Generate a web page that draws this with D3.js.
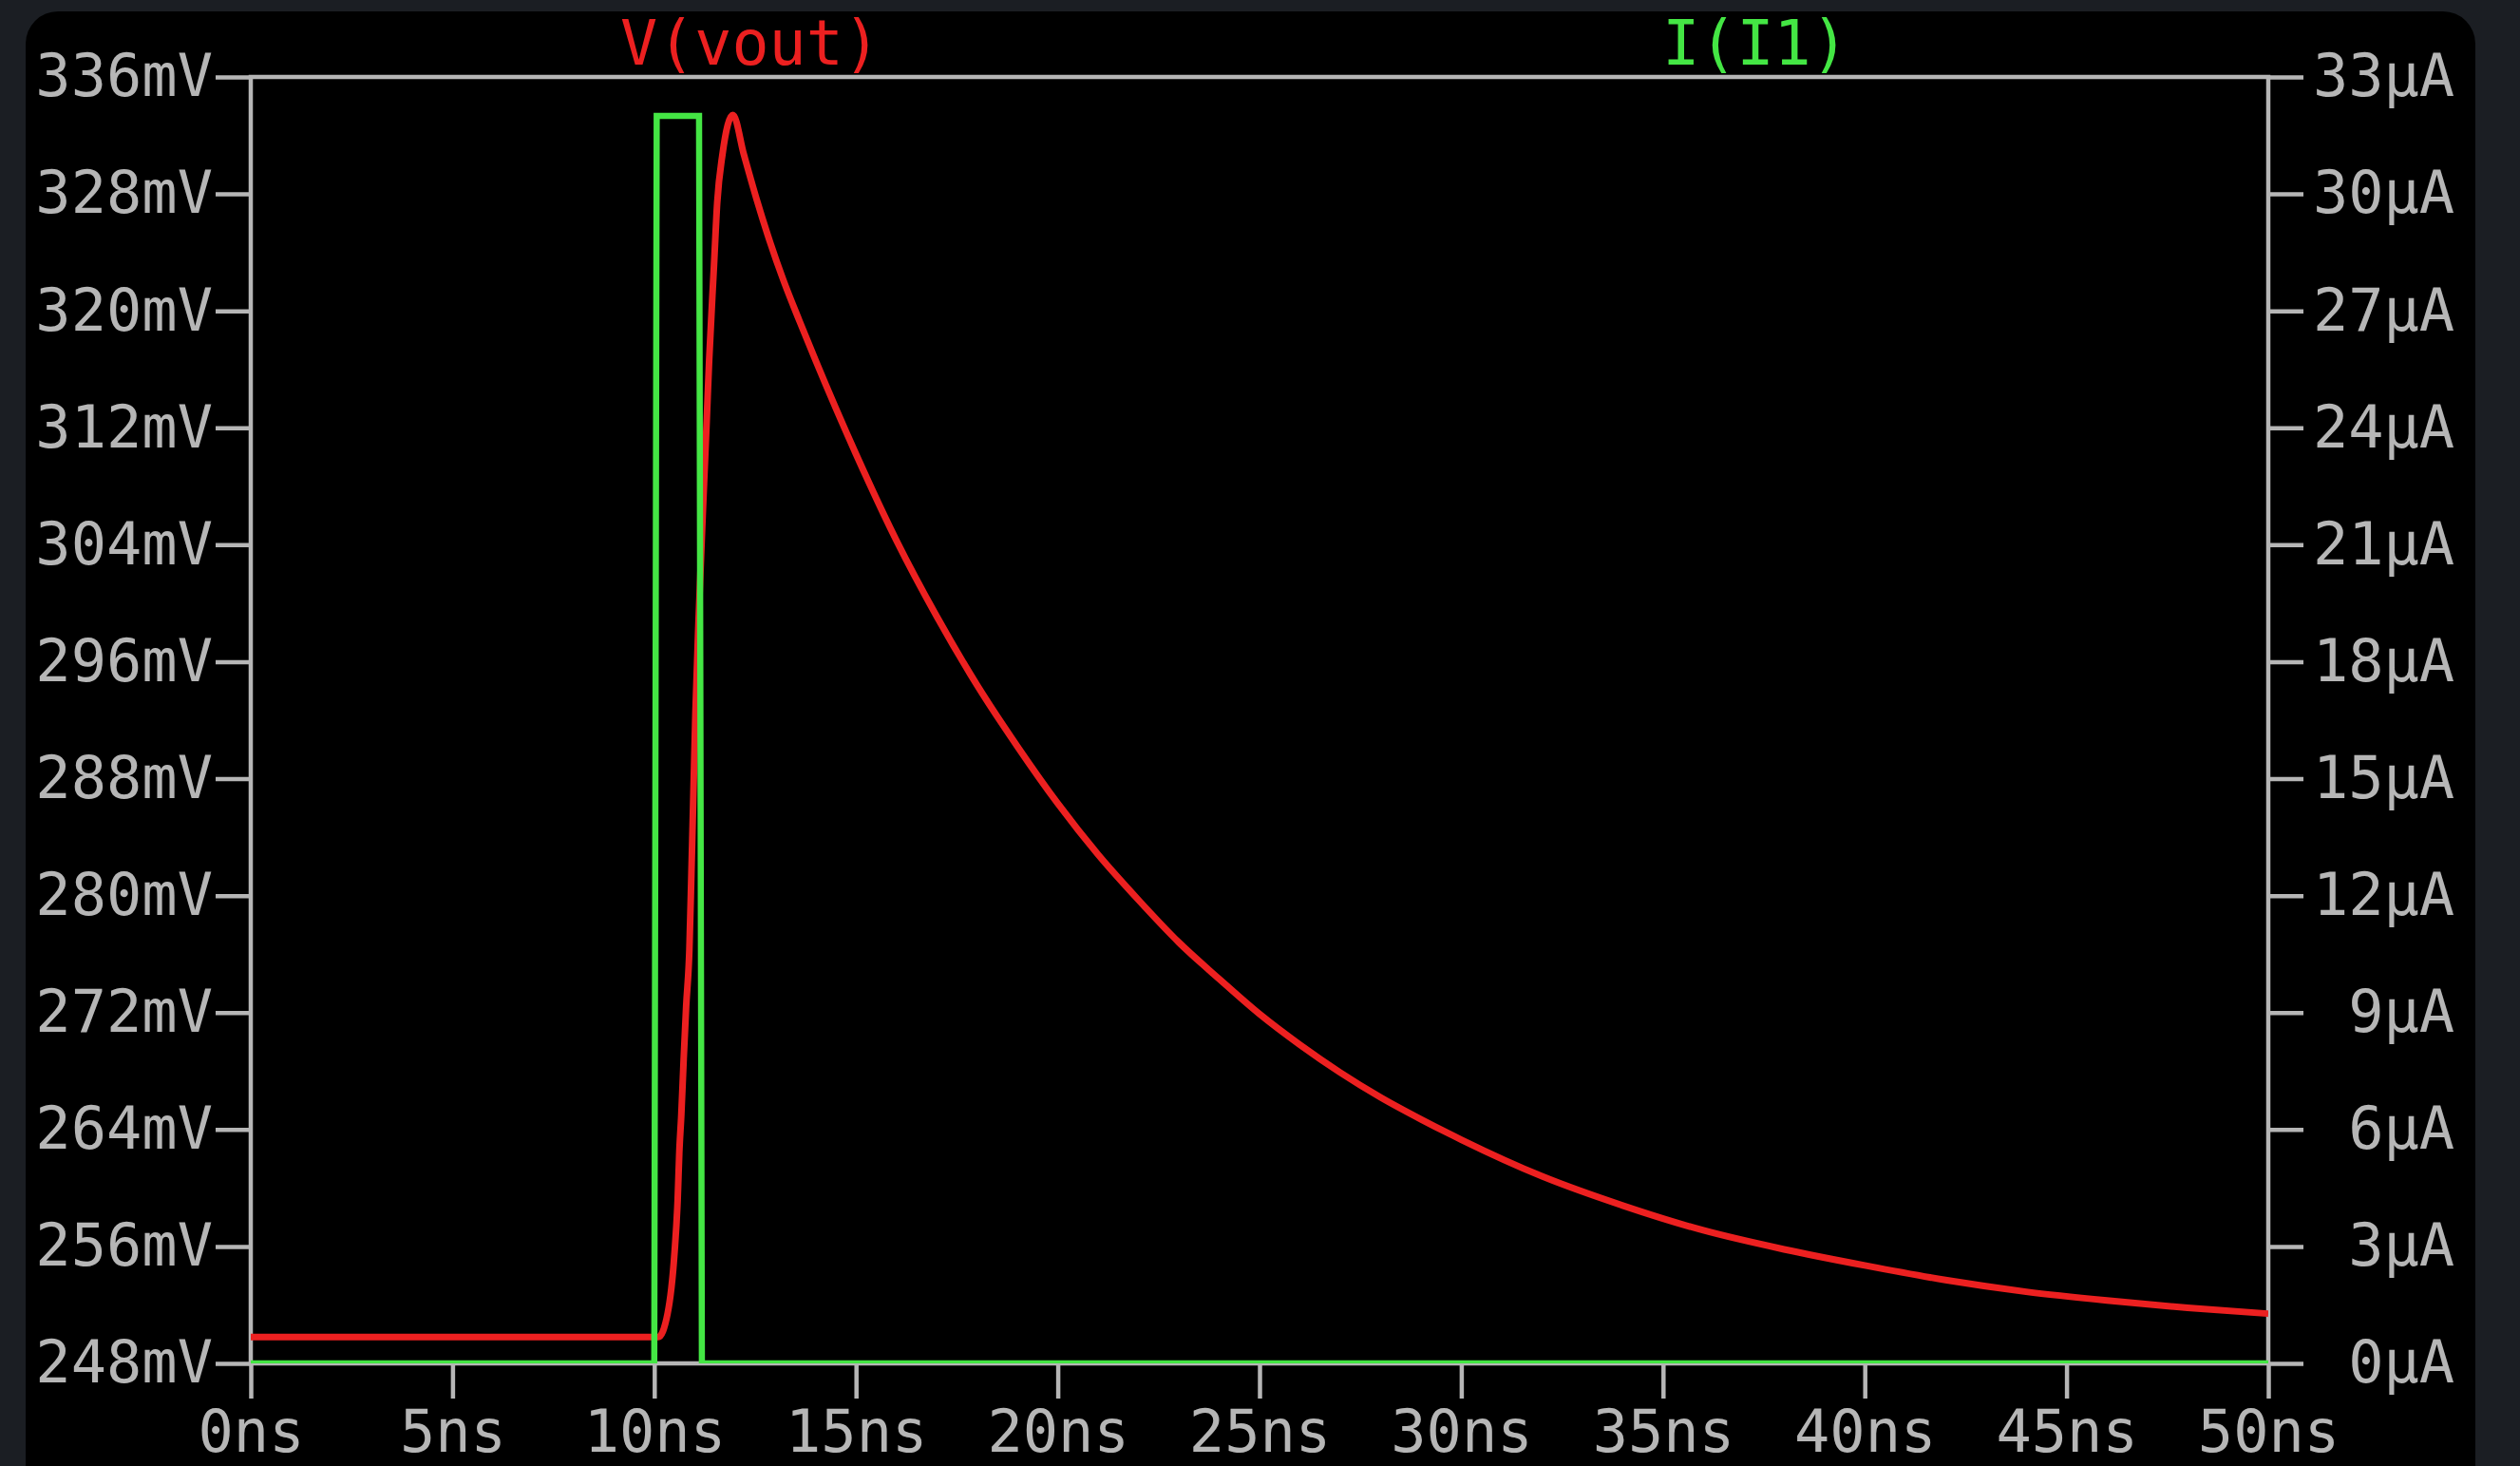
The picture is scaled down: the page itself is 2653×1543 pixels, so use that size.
<!DOCTYPE html>
<html>
<head>
<meta charset="utf-8">
<script src="https://cdn.jsdelivr.net/npm/d3@7"></script>
<style>
  html, body { margin: 0; padding: 0; background: #1b1e23; }
  svg { display: block; }
  .tick text { font-family: "DejaVu Sans Mono", monospace; font-size: 62px; fill: #b6b6b6; }
</style>
</head>
<body>
<div id="container"></div>
<script>
/**
 * DATA
 * */
// V(vout): time in ns, value in mV
const voutTime = [0, 10, 10.1, 10.33, 10.5, 10.58, 10.62, 10.67, 10.73, 10.79, 10.87, 10.92, 10.97, 11.02,
                  11.1, 11.2, 11.3, 11.36, 11.48, 11.56, 11.69, 11.95, 12.22, 12.54, 12.81, 13.2, 13.6, 14,
                  15, 16, 17, 18, 19, 20, 21, 22, 23, 24, 25, 26, 27, 28, 29, 30,
                  32, 34, 36, 38, 40, 42, 44, 46, 48, 50];
const voutValue = [249.8, 249.8, 249.8, 251.4, 255.5, 259.2, 262.4, 265.0, 268.9, 272.4, 276.3, 281.5, 287.0, 292.5,
                   299.0, 306.0, 312.5, 316.6, 323.1, 327.4, 330.7, 333.4, 330.7, 327.6, 325.2, 322.1, 319.3, 316.6,
                   310.2, 304.3, 299.1, 294.4, 290.2, 286.3, 282.8, 279.7, 276.8, 274.3, 271.9, 269.8, 267.9, 266.2, 264.7, 263.3,
                   260.8, 258.8, 257.1, 255.8, 254.7, 253.7, 252.9, 252.3, 251.8, 251.4];

// I(I1): time in ns, value in µA
const iTime = [0, 10, 10.06, 11.11, 11.18, 50];
const iValue = [0, 0, 32, 32, 0, 0];

// axis ticks
const timeTicks = [0, 5, 10, 15, 20, 25, 30, 35, 40, 45, 50];
const voltTicks = [248, 256, 264, 272, 280, 288, 296, 304, 312, 320, 328, 336];
const currTicks = [0, 3, 6, 9, 12, 15, 18, 21, 24, 27, 30, 33];

const seriesNames = ["V(vout)", "I(I1)"];

/**
 * LAYOUT
 * */
const width = 2653, height = 1543;
const plot = { left: 264, right: 2388, top: 81, bottom: 1435 };
const axisColor = "#b6b6b6";
const redColor = "#ec2020";
const greenColor = "#44e644";

const svg = d3.select("#container")
  .append("svg")
  .attr("width", width)
  .attr("height", height);

// window background + black panel
svg.append("rect")
  .attr("width", width).attr("height", height)
  .attr("fill", "#1b1e23");
svg.append("rect")
  .attr("x", 27).attr("y", 12)
  .attr("width", 2579).attr("height", 1580)
  .attr("rx", 34)
  .attr("fill", "#000");

const xScale = d3.scaleLinear().domain([0, 50]).range([plot.left, plot.right]);
const yV = d3.scaleLinear().domain([248, 336]).range([plot.bottom, plot.top]);
const yI = d3.scaleLinear().domain([0, 33]).range([plot.bottom, plot.top]);

// axes
const tickLen = 37;
const leftAxis = svg.append("g")
  .attr("transform", `translate(${plot.left},0)`)
  .call(d3.axisLeft(yV).tickValues(voltTicks).tickSize(tickLen).tickSizeOuter(0).tickPadding(3)
    .tickFormat(d => d + "mV"));

const rightAxis = svg.append("g")
  .attr("transform", `translate(${plot.right},0)`)
  .call(d3.axisRight(yI).tickValues(currTicks).tickSize(tickLen).tickSizeOuter(0).tickPadding(10)
    .tickFormat(d => d + "µA"));

const bottomAxis = svg.append("g")
  .attr("transform", `translate(0,${plot.bottom})`)
  .call(d3.axisBottom(xScale).tickValues(timeTicks).tickSize(tickLen).tickSizeOuter(0).tickPadding(12)
    .tickFormat(d => d + "ns"));

svg.selectAll(".domain").remove();
svg.selectAll(".tick line").attr("stroke", axisColor).attr("stroke-width", 4.5);

// right labels are padded to the widest label, like LTspice does
rightAxis.selectAll(".tick text")
  .attr("text-anchor", "end")
  .attr("x", tickLen + 10 + 4 * 37.3);

// plot frame
svg.append("rect")
  .attr("x", plot.left).attr("y", plot.top)
  .attr("width", plot.right - plot.left)
  .attr("height", plot.bottom - plot.top)
  .attr("fill", "none")
  .attr("stroke", axisColor)
  .attr("stroke-width", 4.5);

// clip for traces
svg.append("clipPath").attr("id", "plotclip")
  .append("rect")
  .attr("x", plot.left).attr("y", plot.top)
  .attr("width", plot.right - plot.left)
  .attr("height", plot.bottom - plot.top);

const traces = svg.append("g").attr("clip-path", "url(#plotclip)");

const voutData = voutTime.map((t, i) => ({ t: t, v: voutValue[i] }));
const iData = iTime.map((t, i) => ({ t: t, v: iValue[i] }));

const lineV = d3.line()
  .x(d => xScale(d.t))
  .y(d => yV(d.v))
  .curve(d3.curveMonotoneX);

const lineI = d3.line()
  .x(d => xScale(d.t))
  .y(d => yI(d.v));

traces.append("path")
  .datum(voutData)
  .attr("d", lineV)
  .attr("fill", "none")
  .attr("stroke", redColor)
  .attr("stroke-width", 7)
  .attr("stroke-linejoin", "round");

traces.append("path")
  .datum(iData)
  .attr("d", lineI)
  .attr("fill", "none")
  .attr("stroke", greenColor)
  .attr("stroke-width", 6.5)
  .attr("stroke-linejoin", "miter");

// trace names on top
svg.selectAll("text.label")
  .data(seriesNames)
  .join("text")
  .attr("class", "label")
  .attr("x", (d, i) => i === 0 ? 790 : 1848)
  .attr("y", 68)
  .attr("text-anchor", "middle")
  .attr("font-family", "DejaVu Sans Mono, monospace")
  .attr("font-size", 65)
  .attr("fill", (d, i) => i === 0 ? redColor : greenColor)
  .text(d => d);
</script>
</body>
</html>
